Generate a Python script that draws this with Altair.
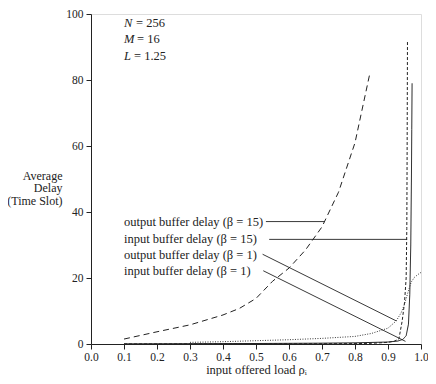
import altair as alt
import pandas as pd

# ---- data ----
out15_x = [0.1, 0.2, 0.3, 0.4, 0.45, 0.5, 0.55, 0.6, 0.65, 0.7, 0.75, 0.8, 0.845]
out15_y = [1.5, 3.7, 5.8, 8.8, 10.8, 13.8, 19.0, 23.0, 28.5, 35.5, 46.0, 61.0, 82.0]

in15_x = [0.1, 0.3, 0.5, 0.7, 0.8, 0.85, 0.9, 0.92, 0.933, 0.943, 0.95, 0.955, 0.957, 0.958, 0.959]
in15_y = [0.02, 0.03, 0.05, 0.08, 0.12, 0.2, 0.5, 0.9, 1.5, 7.0, 12.5, 20.0, 35.0, 60.0, 92.0]

out1_x = [0.3, 0.4, 0.5, 0.6, 0.7, 0.8, 0.85, 0.9, 0.925, 0.94, 0.95, 0.96, 0.97, 0.98, 0.99, 1.0]
out1_y = [0.5, 0.7, 1.0, 1.3, 1.7, 2.3, 3.2, 4.8, 7.0, 9.5, 12.0, 15.5, 18.7, 20.2, 21.0, 21.7]

in1_x = [0.1, 0.3, 0.5, 0.7, 0.8, 0.9, 0.93, 0.945, 0.955, 0.962, 0.966, 0.969, 0.971, 0.972, 0.973]
in1_y = [0.05, 0.1, 0.15, 0.25, 0.35, 0.6, 0.9, 1.4, 2.5, 6.0, 15.0, 30.0, 50.0, 65.0, 79.0]

label_text = ["output buffer delay (β = 15)", "input buffer delay (β = 15)",
              "output buffer delay (β = 1)", "input buffer delay (β = 1)"]
label_x = [0.1, 0.1, 0.1, 0.1]
label_y = [37.1, 31.7, 27.0, 22.0]
leader_x = [0.53, 0.54, 0.52, 0.522]
leader_y = [37.1, 31.7, 27.2, 22.2]
leader_x2 = [0.707, 0.958, 0.925, 0.953]
leader_y2 = [37.1, 31.7, 7.0, 0.8]

param_sym = ["N", "M", "L"]
param_val = ["= 256", "= 16", "= 1.25"]
param_x = [0.1, 0.1, 0.1]
param_y = [97.3, 92.4, 87.3]
param_dx = [12, 13, 10]

x_ticks = [0.0, 0.1, 0.2, 0.3, 0.4, 0.5, 0.6, 0.7, 0.8, 0.9, 1.0]
y_ticks = [0, 20, 40, 60, 80, 100]

FONT = "Liberation Serif"
INK = "#222222"

xs = alt.Scale(domain=[0, 1])
ys = alt.Scale(domain=[0, 100])

xax = alt.Axis(values=x_ticks, tickCount=11, format=".1f", title="input offered load ρᵢ",
               grid=False, tickSize=5, labelFont=FONT, labelFontSize=11.5,
               labelColor=INK, titleFont=FONT, titleFontSize=12.5, titleFontWeight="normal",
               titleColor=INK, domainColor=INK, tickColor=INK, labelPadding=2,
               titlePadding=1, labelFlush=False, labelOverlap=False)
yax = alt.Axis(values=y_ticks, title=["Average", "Delay", "(Time Slot)"],
               grid=False, tickSize=5, labelFont=FONT, labelFontSize=11.5,
               labelColor=INK, titleFont=FONT, titleFontSize=12, titleFontWeight="normal",
               titleColor=INK, domainColor=INK, tickColor=INK, titleAngle=0,
               titleAlign="right", titleBaseline="middle", titleX=-29, titleY=161,
               titleLineHeight=12.5, labelPadding=3, labelOverlap=False)

X = alt.X("x:Q", scale=xs, axis=xax)
Y = alt.Y("y:Q", scale=ys, axis=yax)


def curve(xv, yv, dash, width=1.0):
    df = pd.DataFrame({"x": xv, "y": yv})
    m = alt.Chart(df).mark_line(color=INK, strokeWidth=width, strokeDash=dash, clip=True)
    return m.encode(x=X, y=Y)


base = curve(out15_x, out15_y, [6, 4])
c2 = curve(in15_x, in15_y, [3, 2])
c3 = curve(out1_x, out1_y, [1, 1.5], 0.9)
c4 = curve(in1_x, in1_y, [1, 0])

lab_df = pd.DataFrame({"t": label_text, "x": label_x, "y": label_y})
labels = alt.Chart(lab_df).mark_text(font=FONT, fontSize=12.5, align="left",
                                     baseline="middle", color=INK).encode(
    x=X, y=Y, text="t:N")

lead_df = pd.DataFrame({"x": leader_x, "y": leader_y, "x2": leader_x2, "y2": leader_y2})
leaders = alt.Chart(lead_df).mark_rule(color=INK, strokeWidth=0.9).encode(
    x=X, y=Y, x2="x2:Q", y2="y2:Q")

layers = [base, c2, c3, c4, leaders, labels]
for s, v, px, py, dx in zip(param_sym, param_val, param_x, param_y, param_dx):
    d = pd.DataFrame({"s": [s], "v": [v], "x": [px], "y": [py]})
    layers.append(alt.Chart(d).mark_text(font=FONT, fontSize=12.5, fontStyle="italic",
                                         align="left", baseline="middle", color=INK).encode(
        x=X, y=Y, text="s:N"))
    layers.append(alt.Chart(d).mark_text(font=FONT, fontSize=12.5, align="left", dx=dx,
                                         baseline="middle", color=INK).encode(
        x=X, y=Y, text="v:N"))

chart = alt.layer(*layers).properties(
    width=330, height=330,
    autosize=alt.AutoSizeParams(type="none"),
    padding={"left": 83, "top": 6, "right": 7, "bottom": 32},
).configure_view(stroke=INK, strokeWidth=1).configure(background="white")

chart.save("out.html", embed_options={"renderer": "svg", "actions": False})
